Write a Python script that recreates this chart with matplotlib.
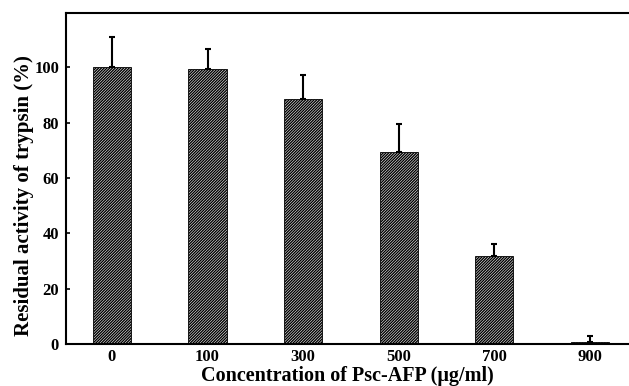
import numpy as np
import matplotlib
matplotlib.use("Agg")
import matplotlib.pyplot as plt

# data
concentrations = ["0", "100", "300", "500", "700", "900"]
activity = [100.0, 99.5, 88.5, 69.4, 31.8, 0.8]
errors = [11.0, 7.2, 8.8, 10.2, 4.3, 2.2]

plt.rcParams['font.family'] = ['Liberation Serif', 'DejaVu Serif']
plt.rcParams['font.weight'] = 'bold'
plt.rcParams['hatch.linewidth'] = 1.0

fig = plt.figure(figsize=(6.29, 3.86), dpi=100)
ax = fig.add_axes([0.105, 0.109, 0.895, 0.857])

x = np.arange(len(concentrations))
ax.bar(x, activity, width=0.4, color='white', edgecolor='black',
       hatch='/' * 12, linewidth=0.6, zorder=2)
ax.errorbar(x, activity, yerr=[np.zeros(len(errors)), errors], fmt='none',
            ecolor='black', elinewidth=1.5, capsize=2, capthick=1.5, zorder=3)

ax.set_xlim(-0.48, 5.41)
ax.set_ylim(0, 119.6)
ax.set_yticks([0, 20, 40, 60, 80, 100])
ax.set_xticks(x)
ax.set_xticklabels(concentrations)

ax.tick_params(axis='y', direction='in', length=3, width=1.2, labelsize=12, pad=5)
ax.tick_params(axis='x', length=0, labelsize=12, pad=3.5)
for lbl in ax.get_xticklabels() + ax.get_yticklabels():
    lbl.set_fontweight('bold')

ax.spines['right'].set_visible(False)
for side in ['left', 'bottom', 'top']:
    ax.spines[side].set_linewidth(1.5)

ax.set_xlabel('Concentration of Psc-AFP (\u03bcg/ml)', fontsize=14.5, fontweight='bold')
ax.set_ylabel('Residual activity of trypsin (%)', fontsize=15, fontweight='bold')
ax.xaxis.set_label_coords(0.5, -0.066)
ax.yaxis.set_label_coords(-0.057, 0.45)

fig.savefig('out.png', dpi=100)
